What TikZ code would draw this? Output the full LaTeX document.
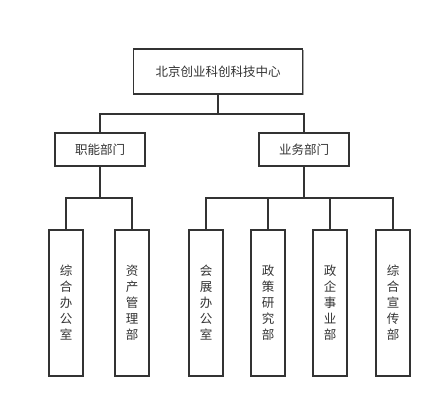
\documentclass[tikz,border=0pt]{standalone}
\usepackage{fontspec}
\setmainfont{Noto Sans CJK SC}
\usetikzlibrary{positioning}
\usetikzlibrary{shadows}
\definecolor{ink}{HTML}{333333}

\begin{document}
\begin{tikzpicture}[x=1pt,y=-1pt]
        \tikzset{unit/.style = {draw=ink,line width=1.8pt,fill=white,text=ink,font=\fontsize{12.5}{16}\selectfont,drop shadow={shadow xshift=1pt,shadow yshift=-1pt,fill=black!35,opacity=1},inner sep=0pt}}
        \tikzset{top_unit/.style = {unit,minimum width=169pt,minimum height=45pt}}
        \tikzset{mid_unit/.style = {unit,minimum width=90pt,minimum height=33pt}}
        \tikzset{low_unit/.style = {unit,minimum width=34pt,minimum height=146pt,align=center}}
        \tikzset{org_edge/.style = {draw=ink,line width=1.8pt}}

        \useasboundingbox (0,0) rectangle (442,409);

        \node[top_unit] (root) at (218,71.5) {北京创业科创科技中心};

        \node[mid_unit] (func) at (100,149.5) {职能部门};
        \node[mid_unit] (biz) at (304,149.5) {业务部门};

        \node[low_unit] (f0) at (66,303) {综\\合\\办\\公\\室};
        \node[low_unit] (f1) at (132,303) {资\\产\\管\\理\\部};
        \node[low_unit] (b0) at (206,303) {会\\展\\办\\公\\室};
        \node[low_unit] (b1) at (268,303) {政\\策\\研\\究\\部};
        \node[low_unit] (b2) at (330,303) {政\\企\\事\\业\\部};
        \node[low_unit] (b3) at (393,303) {综\\合\\宣\\传\\部};

        \coordinate (j0) at (218,114);
        \coordinate (j1) at (100,198);
        \coordinate (j2) at (304,198);

        \draw[org_edge] (root.south) -- (j0) -| (func.north); \draw[org_edge] (j0) -| (biz.north);
        \draw[org_edge] (func.south) -- (j1) -| (f0.north); \draw[org_edge] (j1) -| (f1.north);
        \draw[org_edge] (biz.south) -- (j2) -| (b0.north); \draw[org_edge] (j2) -| (b3.north);
        \draw[org_edge] (b1.north) -- (b1.north |- j2); \draw[org_edge] (b2.north) -- (b2.north |- j2);
    \end{tikzpicture}
\end{document}
